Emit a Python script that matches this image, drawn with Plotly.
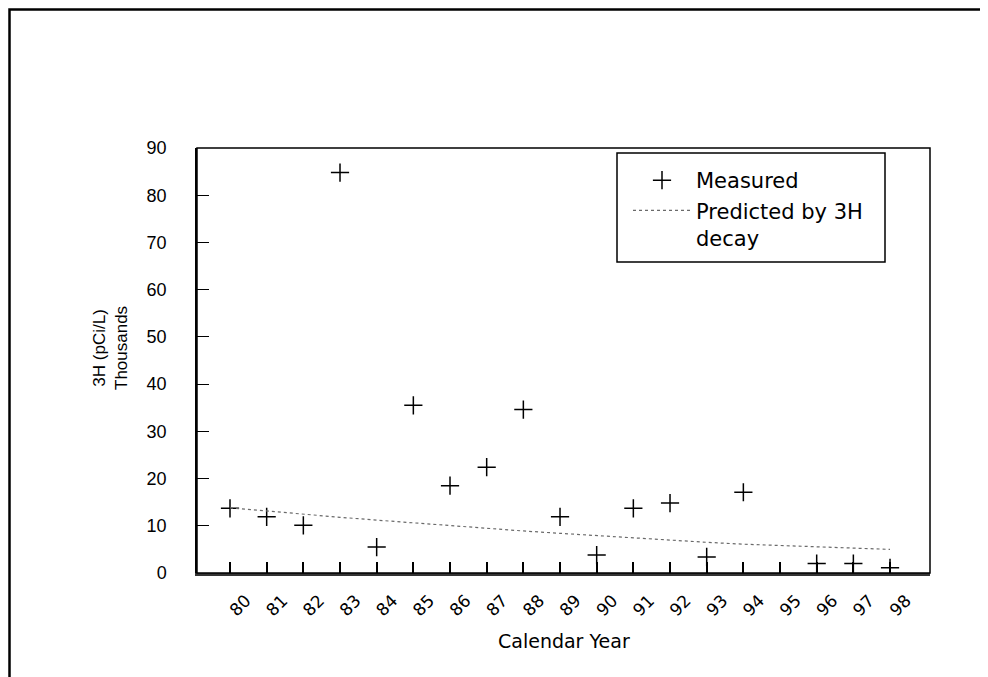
import plotly.graph_objects as go

years = [80, 81, 82, 83, 84, 85, 86, 87, 88, 89, 90, 91, 92, 93, 94, 95, 96, 97, 98]
year_labels = [str(y) for y in years]
measured = [13.7, 11.9, 10.1, 84.8, 5.5, 35.5, 18.5, 22.4, 34.6, 11.9, 3.8, 13.7, 14.8,
            3.4, 17.1, None, 2.0, 2.0, 1.1]
predicted = [13.8, 13.1, 12.5, 11.8, 11.2, 10.6, 10.0, 9.4, 8.9, 8.4, 7.9, 7.4, 7.0,
             6.5, 6.1, 5.8, 5.5, 5.2, 5.0]
y_ticks = [0, 10, 20, 30, 40, 50, 60, 70, 80, 90]

FONT = "Liberation Sans"
GOTHIC = "DejaVu Sans"

# page body has an 8px margin; compensate so the plot lands where the reference has it
W, H = 980, 669
ML, MT = 189, 140
PW, PH = 733, 425
MR = W - ML - PW
MB = H - MT - PH


def px(x):
    return (x - 197) / PW


def py(y):
    return (573 - y) / PH


fig = go.Figure()
fig.add_trace(go.Scatter(
    x=years, y=measured, mode="markers", name="Measured",
    marker=dict(symbol="cross-thin", size=13, line=dict(width=1.5, color="black"), color="black"),
))
fig.add_trace(go.Scatter(
    x=years, y=predicted, mode="lines", name="Predicted by 3H<br>decay",
    line=dict(color="#6a6a6a", width=1.2, dash="dot"),
))

fig.update_layout(
    width=W, height=H,
    margin=dict(l=ML, r=MR, t=MT, b=MB),
    paper_bgcolor="white", plot_bgcolor="white",
    font=dict(family=FONT, color="black"),
    showlegend=True,
    legend=dict(
        x=px(628), y=py(160), xanchor="left", yanchor="top",
        bgcolor="rgba(0,0,0,0)", borderwidth=0,
        font=dict(size=21, family=GOTHIC),
        itemwidth=58, tracegroupgap=0, valign="top",
    ),
    xaxis=dict(
        range=[79.1, 99.09], tickmode="array", tickvals=years, ticktext=year_labels,
        ticks="inside", ticklen=11, tickwidth=1.5, tickcolor="black",
        tickangle=-45, tickfont=dict(size=17, family=GOTHIC),
        ticklabelshift=16, ticklabelstandoff=8,
        showline=True, linewidth=3, linecolor="#333333",
        showgrid=False, zeroline=False,
    ),
    yaxis=dict(
        range=[0, 90], tickmode="array", tickvals=y_ticks,
        ticks="inside", ticklen=12, tickwidth=1.2, tickcolor="black",
        tickfont=dict(size=18, family=FONT), ticklabelstandoff=25,
        showline=True, linewidth=1.5, linecolor="black",
        showgrid=False, zeroline=False,
    ),
    shapes=[
        dict(type="rect", xref="paper", yref="paper", x0=0, x1=1, y0=0, y1=1,
             line=dict(color="black", width=1.5), layer="above"),
        dict(type="rect", xref="paper", yref="paper", x0=px(617), x1=px(885),
             y0=py(262), y1=py(153),
             line=dict(color="black", width=1.5), layer="above"),
        dict(type="rect", xref="paper", yref="paper", x0=px(9.5), x1=px(1100),
             y0=py(800), y1=py(9.5),
             line=dict(color="black", width=2.5), layer="above"),
    ],
    annotations=[
        dict(text="3H (pCi/L)<br>Thousands", xref="paper", yref="paper",
             x=px(110), y=py(348), textangle=-90,
             showarrow=False, font=dict(size=17, family=FONT),
             xanchor="center", yanchor="middle"),
        dict(text="Calendar Year", xref="paper", yref="paper",
             x=0.5, y=py(641), showarrow=False,
             font=dict(size=19, family=GOTHIC),
             xanchor="center", yanchor="middle"),
    ],
)

fig.write_html("out.html")
